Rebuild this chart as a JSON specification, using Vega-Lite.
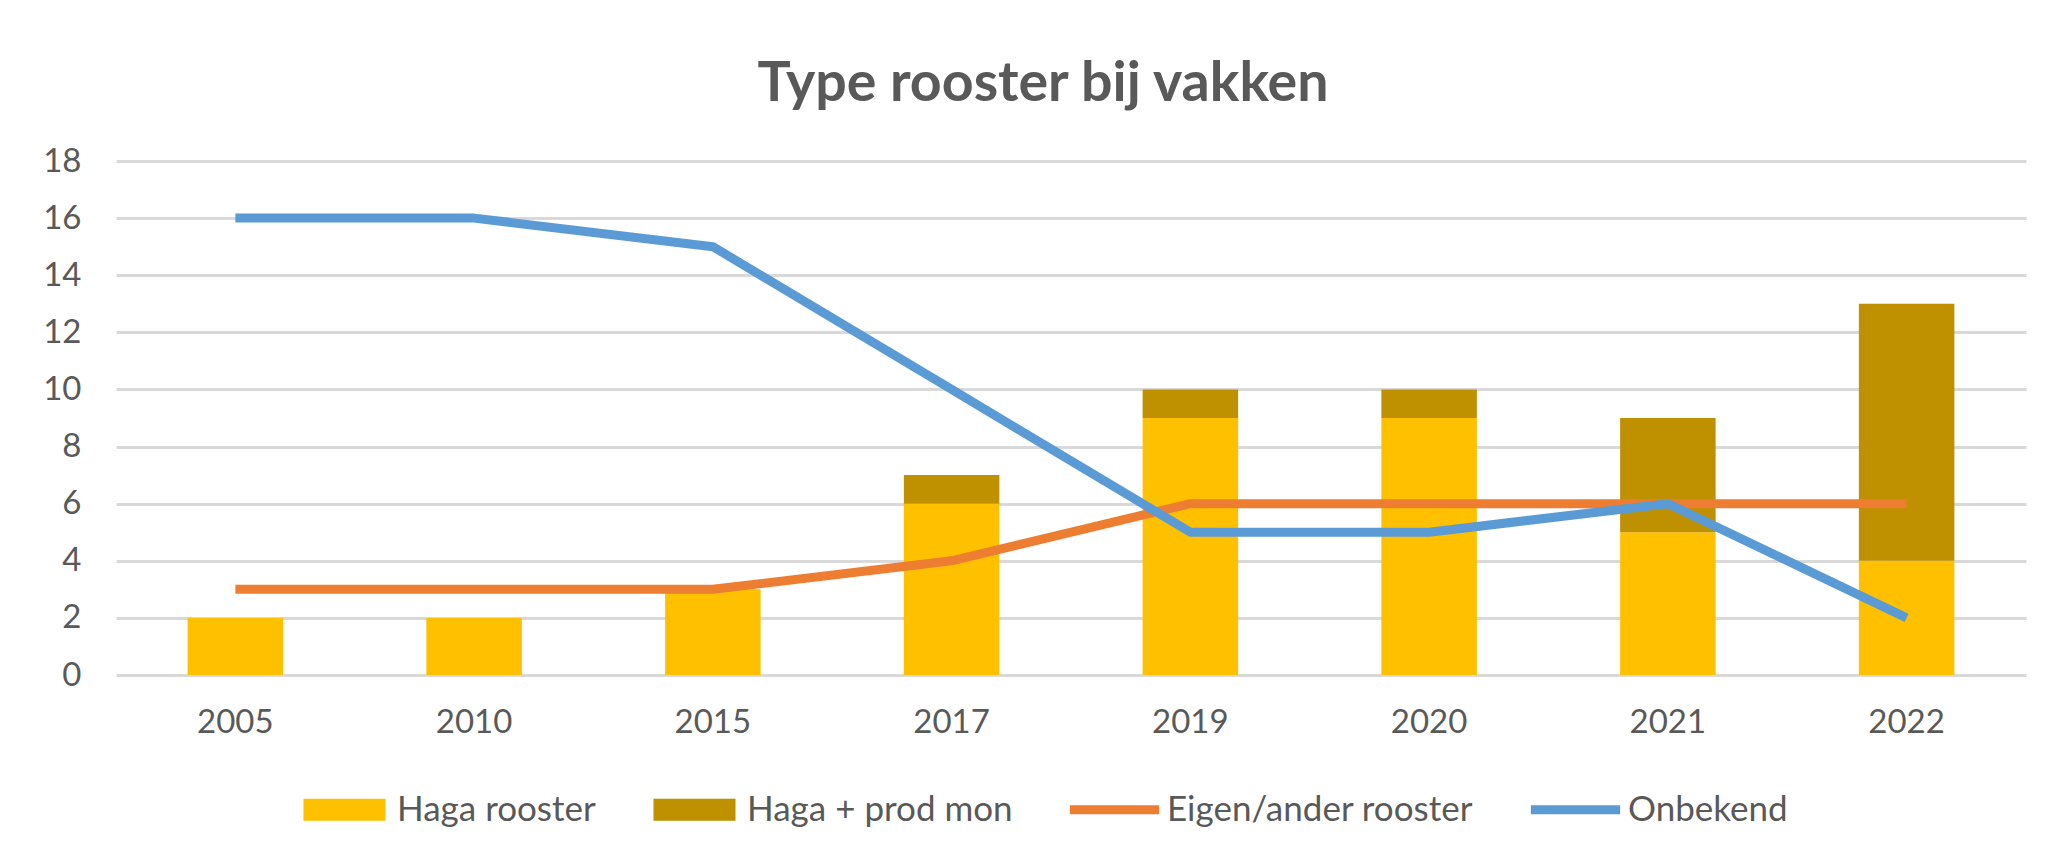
{
  "$schema": "https://vega.github.io/schema/vega-lite/v6.json",
  "width": 1910,
  "height": 514,
  "autosize": {"type": "none"},
  "padding": {"left": 116, "top": 161, "right": 34, "bottom": 192},
  "background": "white",
  "config": {"view": {"stroke": null}},
  "title": {"text": "Type rooster bij vakken", "font": "Lato", "fontSize": 55.5, "fontWeight": "bold", "color": "#595959", "anchor": "middle", "dx": -28, "offset": 33},
  "data": {"values": [
    {"year": "2005", "series": "Haga rooster", "value": 2},
    {"year": "2005", "series": "Haga + prod mon", "value": 0},
    {"year": "2005", "series": "Eigen/ander rooster", "value": 3},
    {"year": "2005", "series": "Onbekend", "value": 16},
    {"year": "2010", "series": "Haga rooster", "value": 2},
    {"year": "2010", "series": "Haga + prod mon", "value": 0},
    {"year": "2010", "series": "Eigen/ander rooster", "value": 3},
    {"year": "2010", "series": "Onbekend", "value": 16},
    {"year": "2015", "series": "Haga rooster", "value": 3},
    {"year": "2015", "series": "Haga + prod mon", "value": 0},
    {"year": "2015", "series": "Eigen/ander rooster", "value": 3},
    {"year": "2015", "series": "Onbekend", "value": 15},
    {"year": "2017", "series": "Haga rooster", "value": 6},
    {"year": "2017", "series": "Haga + prod mon", "value": 1},
    {"year": "2017", "series": "Eigen/ander rooster", "value": 4},
    {"year": "2017", "series": "Onbekend", "value": 10},
    {"year": "2019", "series": "Haga rooster", "value": 9},
    {"year": "2019", "series": "Haga + prod mon", "value": 1},
    {"year": "2019", "series": "Eigen/ander rooster", "value": 6},
    {"year": "2019", "series": "Onbekend", "value": 5},
    {"year": "2020", "series": "Haga rooster", "value": 9},
    {"year": "2020", "series": "Haga + prod mon", "value": 1},
    {"year": "2020", "series": "Eigen/ander rooster", "value": 6},
    {"year": "2020", "series": "Onbekend", "value": 5},
    {"year": "2021", "series": "Haga rooster", "value": 5},
    {"year": "2021", "series": "Haga + prod mon", "value": 4},
    {"year": "2021", "series": "Eigen/ander rooster", "value": 6},
    {"year": "2021", "series": "Onbekend", "value": 6},
    {"year": "2022", "series": "Haga rooster", "value": 4},
    {"year": "2022", "series": "Haga + prod mon", "value": 9},
    {"year": "2022", "series": "Eigen/ander rooster", "value": 6},
    {"year": "2022", "series": "Onbekend", "value": 2}
  ]},
  "encoding": {
    "x": {"field": "year", "type": "ordinal", "title": null,
      "scale": {"paddingInner": 0.6, "paddingOuter": 0.3},
      "axis": {"labelAngle": 0, "domain": false, "ticks": false, "tickSize": 0, "labelPadding": 31, "labelFont": "Lato", "labelFontSize": 33, "labelColor": "#595959", "grid": false}}
  },
  "layer": [
    {
      "transform": [{"filter": {"field": "series", "oneOf": ["Haga rooster", "Haga + prod mon"]}}],
      "mark": {"type": "bar"},
      "encoding": {
        "y": {"field": "value", "type": "quantitative", "stack": "zero", "title": null,
          "scale": {"domain": [0, 18], "nice": false},
          "axis": {"values": [0, 2, 4, 6, 8, 10, 12, 14, 16, 18], "grid": true, "gridColor": "#D9D9D9", "gridWidth": 3, "domain": false, "ticks": false, "tickSize": 0, "labelPadding": 35, "labelFont": "Lato", "labelFontSize": 33, "labelColor": "#595959"}},
        "color": {"field": "series", "type": "nominal",
          "scale": {"domain": ["Haga rooster", "Haga + prod mon", "Eigen/ander rooster", "Onbekend"], "range": ["#FFC000", "#BF9000", "#ED7D31", "#5B9BD5"]},
          "legend": {"orient": "none", "legendX": 186, "legendY": 606, "direction": "horizontal", "title": null,
            "symbolSize": 7225, "labelFont": "Lato", "labelFontSize": 35, "labelColor": "#595959", "labelOffset": 10, "columnPadding": 56, "labelLimit": 0,
            "encode": {"symbols": {"update": {
              "shape": [{"test": "datum.value === 'Haga rooster' || datum.value === 'Haga + prod mon'", "value": "M-0.965,-0.26H0.965V0.26H-0.965Z"}, {"value": "M-1.05,-0.106H1.05V0.106H-1.05Z"}],
              "fill": {"scale": "color", "field": "value"},
              "stroke": {"value": "transparent"},
              "strokeWidth": {"value": 0},
              "opacity": {"value": 1},
              "fillOpacity": {"value": 1}
            }}}}},
        "order": {"field": "series", "sort": "descending"}
      }
    },
    {
      "transform": [{"filter": {"field": "series", "oneOf": ["Eigen/ander rooster", "Onbekend"]}}],
      "mark": {"type": "line", "strokeWidth": 9, "strokeJoin": "round"},
      "encoding": {
        "y": {"field": "value", "type": "quantitative"},
        "color": {"field": "series", "type": "nominal"}
      }
    }
  ]
}
